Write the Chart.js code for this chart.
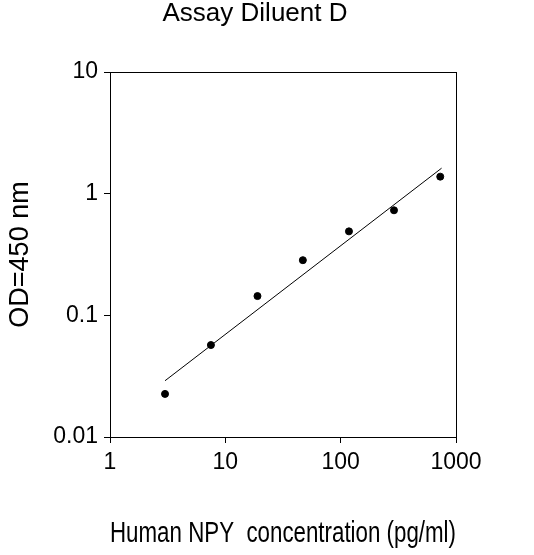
<!DOCTYPE html>
<html>
<head>
<script src="https://cdn.jsdelivr.net/npm/chart.js@4"></script>
<style>
  body { margin: 0; background: #fff; }
  #wrap { width: 534px; height: 555px; }
</style>
</head>
<body>
<div id="wrap"><canvas id="chart" width="534" height="555"></canvas></div>
<script>
const concentration = [3, 7.5, 19, 47, 118, 290, 730]
const od = [0.0226, 0.057, 0.144, 0.284, 0.49, 0.73, 1.38]
const fitX = [3, 750]
const fitY = [0.029, 1.62]
const decades = [1, 10, 100, 1000]
const yDecades = [0.01, 0.1, 1, 10]
const chartTitle = 'Assay Diluent D'

const font = 'Liberation Sans, Arial, sans-serif'

const boxPlugin = {
  id: 'box',
  afterDraw(chart) {
    const a = chart.chartArea
    const ctx = chart.ctx
    ctx.save()
    ctx.strokeStyle = '#000'
    ctx.lineWidth = 1
    ctx.strokeRect(a.left + 0.5, a.top + 0.5, a.right - a.left, a.bottom - a.top)
    ctx.fillStyle = '#000'
    ctx.font = '26px ' + font
    ctx.textAlign = 'center'
    ctx.textBaseline = 'middle'
    ctx.fillText(chartTitle, 255, 14)
    ctx.restore()
  }
}

const ctx = document.getElementById('chart').getContext('2d')
new Chart(ctx, {
  type: 'scatter',
  data: {
    datasets: [
      {
        data: concentration.map((x, i) => ({ x: x, y: od[i] })),
        backgroundColor: '#000',
        borderColor: '#000',
        pointRadius: 3.5,
      },
      {
        type: 'line',
        data: fitX.map((x, i) => ({ x: x, y: fitY[i] })),
        borderColor: '#000',
        borderWidth: 1,
        pointRadius: 0,
        fill: false,
      }
    ]
  },
  plugins: [boxPlugin],
  options: {
    responsive: false,
    animation: false,
    layout: { padding: { left: 0, right: 78, top: 72, bottom: 0 } },
    plugins: {
      legend: { display: false },
      tooltip: { enabled: false },
    },
    scales: {
      x: {
        type: 'logarithmic',
        min: 1,
        max: 1000,
        afterBuildTicks: s => { s.ticks = decades.map(v => ({ value: v })) },
        afterFit: s => { s.height = 118 },
        ticks: {
          color: '#000',
          font: { family: font, size: 23 },
          callback: v => String(v),
          maxRotation: 0,
          padding: 6,
        },
        grid: { drawOnChartArea: false, color: '#000', tickLength: 6 },
        border: { color: '#000' },
        title: {
          display: true,
          text: 'Human NPY  concentration (pg/ml)',
          color: '#000',
          font: { family: font, size: 29 },
          padding: { top: 30 },
        }
      },
      y: {
        type: 'logarithmic',
        min: 0.01,
        max: 10,
        afterBuildTicks: s => { s.ticks = yDecades.map(v => ({ value: v })) },
        afterFit: s => { s.width = 110 },
        ticks: {
          color: '#000',
          font: { family: font, size: 23 },
          callback: v => String(v),
          padding: 6,
        },
        grid: { drawOnChartArea: false, color: '#000', tickLength: 6 },
        border: { color: '#000' },
        title: {
          display: true,
          text: 'OD=450 nm',
          color: '#000',
          font: { family: font, size: 27 },
          padding: { bottom: 2 },
        }
      }
    }
  }
})
</script>
</body>
</html>
